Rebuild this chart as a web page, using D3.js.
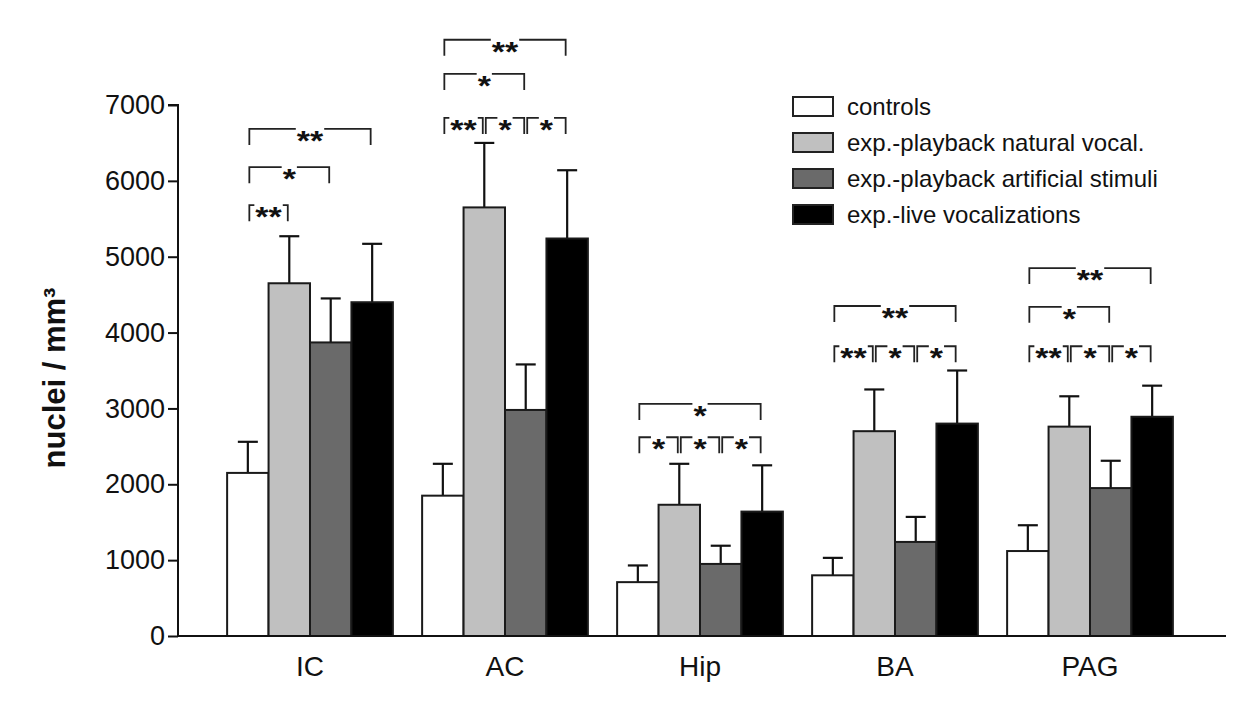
<!DOCTYPE html>
<html><head><meta charset="utf-8">
<script src="https://cdn.jsdelivr.net/npm/d3@7"></script>
<style>
body{margin:0;background:#fff;}
text{font-family:"Liberation Sans",Arial,Helvetica,sans-serif;fill:#111;}
</style></head>
<body><svg id="c" width="1244" height="720"></svg>
<script>
const categories = ["IC","AC","Hip","BA","PAG"];
const seriesNames = ["controls","exp.-playback natural vocal.","exp.-playback artificial stimuli","exp.-live vocalizations"];
const seriesColors = ["#ffffff","#c0c0c0","#6a6a6a","#000000"];
// means per series (order = categories)
const controlsMean    = [2150, 1850, 710, 800, 1120];
const naturalMean     = [4650, 5650, 1730, 2700, 2760];
const artificialMean  = [3870, 2980, 950, 1240, 1950];
const liveMean        = [4400, 5240, 1640, 2800, 2890];
// error (upper SEM)
const controlsErr     = [410, 420, 220, 230, 340];
const naturalErr      = [620, 850, 540, 550, 400];
const artificialErr   = [580, 600, 240, 330, 360];
const liveErr         = [770, 900, 610, 700, 410];
const yTicks = [0,1000,2000,3000,4000,5000,6000,7000];
// significance brackets: category, from series, to series, label, level (y value)
const brCat   = ["IC","IC","IC","AC","AC","AC","AC","AC","Hip","Hip","Hip","Hip","BA","BA","BA","BA","PAG","PAG","PAG","PAG","PAG"];
const brFrom  = [0,0,0, 0,1,2,0,0, 0,1,2,0, 0,1,2,0, 0,1,2,0,0];
const brTo    = [1,2,3, 1,2,3,2,3, 1,2,3,3, 1,2,3,3, 1,2,3,2,3];
const brLabel = ["**","*","**", "**","*","*","*","**", "*","*","*","*", "**","*","*","**", "**","*","*","*","**"];
const brLevel = [5680,6180,6685, 6830,6830,6830,7410,7860, 2620,2620,2620,3060, 3820,3820,3820,4350, 3820,3820,3820,4340,4850];

const means = [controlsMean, naturalMean, artificialMean, liveMean];
const errs = [controlsErr, naturalErr, artificialErr, liveErr];

const svg = d3.select("#c");
const y = d3.scaleLinear().domain([0,7000]).range([636,105]);
const x = d3.scaleBand().domain(categories).range([212.5,1187.5]).paddingInner(0.15).paddingOuter(0.075);
const xs = d3.scaleBand().domain(d3.range(4)).range([0, x.bandwidth()]);
const axisLeftX = 178, axisRightX = 1226;

const data = [];
categories.forEach((c,i)=>{ for(let s=0;s<4;s++) data.push({c, s, v:means[s][i], e:errs[s][i]}); });

// error bars
const eb = svg.append("g").attr("stroke","#111").attr("stroke-width",2.2);
data.forEach(d=>{
  const cx = x(d.c)+xs(d.s)+xs.bandwidth()/2;
  eb.append("line").attr("x1",cx).attr("x2",cx).attr("y1",y(d.v)).attr("y2",y(d.v+d.e));
  eb.append("line").attr("x1",cx-10).attr("x2",cx+10).attr("y1",y(d.v+d.e)).attr("y2",y(d.v+d.e));
});
// bars
svg.append("g").selectAll("rect").data(data).join("rect")
  .attr("x",d=>x(d.c)+xs(d.s))
  .attr("y",d=>y(d.v))
  .attr("width",xs.bandwidth())
  .attr("height",d=>y(0)-y(d.v))
  .attr("fill",d=>seriesColors[d.s])
  .attr("stroke","#1a1a1a").attr("stroke-width",2);

// axes
const ya = svg.append("g").attr("transform",`translate(${axisLeftX},0)`)
  .call(d3.axisLeft(y).tickValues(yTicks).tickSize(10).tickPadding(3).tickFormat(d3.format("d")));
ya.selectAll("path,line").attr("stroke","#111").attr("stroke-width",2);
ya.select(".domain").attr("d",`M-10,${y(7000)}H0V${y(0)}`);
ya.selectAll("text").style("font-size","27px").attr("fill","#111").attr("font-family","Liberation Sans, Arial, sans-serif");

svg.append("line").attr("x1",axisLeftX).attr("x2",axisRightX).attr("y1",y(0)).attr("y2",y(0))
  .attr("stroke","#111").attr("stroke-width",2.2);

const xa = svg.append("g").attr("transform",`translate(0,${y(0)})`)
  .call(d3.axisBottom(x).tickSize(0));
xa.select(".domain").remove();
xa.selectAll("text").attr("y",40).attr("dy",0).style("font-size","28px").attr("fill","#111").attr("font-family","Liberation Sans, Arial, sans-serif");

// y label
svg.append("text").attr("transform","translate(65,378) rotate(-90)")
  .attr("text-anchor","middle").style("font-size","31px").style("font-weight","bold")
  .text("nuclei / mm³");

// legend
const lg = svg.append("g").attr("transform","translate(793,97)");
seriesNames.forEach((n,i)=>{
  lg.append("rect").attr("x",0).attr("y",i*36).attr("width",40).attr("height",19)
    .attr("fill",seriesColors[i]).attr("stroke","#222").attr("stroke-width",2);
  lg.append("text").attr("x",54).attr("y",i*36+18).style("font-size","24px").text(n);
});

// brackets
const bg = svg.append("g");
brCat.forEach((c,i)=>{
  const x1 = x(c)+xs(brFrom[i])+xs.bandwidth()/2 + 1.5;
  const x2 = x(c)+xs(brTo[i])+xs.bandwidth()/2 - 1.5;
  const ly = y(brLevel[i]);
  const cx = (x1+x2)/2;
  const w = brLabel[i].length * 13.2;
  bg.append("text").attr("x",cx).attr("y",ly+21).attr("text-anchor","middle")
    .attr("textLength",w).attr("lengthAdjust","spacingAndGlyphs")
    .style("font-size","28px").style("font-weight","bold").text(brLabel[i]);
  const g1 = Math.max(x1, cx-w/2-1), g2 = Math.min(x2, cx+w/2+1);
  const p = d3.path();
  p.moveTo(x1, ly+16); p.lineTo(x1, ly); p.lineTo(g1, ly);
  p.moveTo(g2, ly); p.lineTo(x2, ly); p.lineTo(x2, ly+16);
  bg.append("path").attr("d",p.toString()).attr("fill","none").attr("stroke","#222").attr("stroke-width",1.8);
});
</script></body></html>
